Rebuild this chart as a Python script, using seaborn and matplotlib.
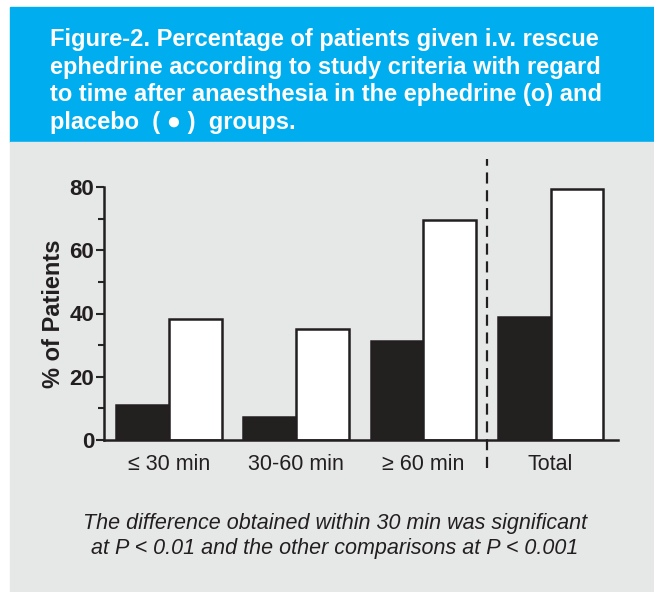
import matplotlib.pyplot as plt
from matplotlib.patches import Rectangle
import seaborn as sns
import pandas as pd

sns.set_style('ticks')
plt.rcParams['font.family'] = ['Liberation Sans', 'DejaVu Sans']

# values (% of patients)
periods = ['≤ 30 min', '30-60 min', '≥ 60 min', 'Total']
placebo = [11, 7.3, 31.3, 39]
ephedrine = [38.3, 35, 69.6, 79.5]

df = pd.DataFrame({
    'period': periods * 2,
    'pct': placebo + ephedrine,
    'group': ['placebo'] * 4 + ['ephedrine'] * 4,
})

fig = plt.figure(figsize=(6.54, 5.92), dpi=100)
fig.patch.set_facecolor('white')
# header and body boxes
fig.patches.append(Rectangle((10 / 654, 1 - 142 / 592), 644 / 654, 135 / 592,
                             transform=fig.transFigure, color='#00aeef', zorder=-2))
fig.patches.append(Rectangle((10 / 654, 0), 644 / 654, 1 - 142 / 592,
                             transform=fig.transFigure, color='#e6e7e7', zorder=-2))

ax = fig.add_axes([104 / 654, 1 - 440 / 592, 514 / 654, 253 / 592])
ax.set_facecolor('none')

sns.barplot(data=df, x='period', y='pct', hue='group', ax=ax,
            palette={'placebo': '#231f20', 'ephedrine': 'white'},
            edgecolor='#231f20', linewidth=1.8, width=0.83, legend=False)

ax.set_xlim(-0.51, 3.53)
ax.set_ylim(0, 80)
ax.set_yticks([0, 20, 40, 60, 80])
ax.set_yticks([10, 30, 50, 70], minor=True)
ax.tick_params(axis='y', which='major', length=6, width=1.5, labelsize=16, pad=1)
ax.tick_params(axis='y', which='minor', length=4, width=1.5)
ax.tick_params(axis='x', length=0, labelsize=15.5, pad=10, colors='#231f20')
for t in ax.get_yticklabels():
    t.set_fontweight('bold')
    t.set_color('#231f20')
ax.set_xlabel('')
ax.set_ylabel('% of Patients', fontsize=17, fontweight='bold', color='#231f20')
ax.yaxis.set_label_coords(-0.075, 0.5)
for s in ['top', 'right']:
    ax.spines[s].set_visible(False)
for s in ['left', 'bottom']:
    ax.spines[s].set_linewidth(1.8)
    ax.spines[s].set_color('#231f20')

# dashed separator before Total
ax.plot([2.5, 2.5], [-9, 89], color='#231f20', lw=1.6, ls=(0, (5, 3)), clip_on=False)

title = ('Figure-2. Percentage of patients given i.v. rescue\n'
         'ephedrine according to study criteria with regard\n'
         'to time after anaesthesia in the ephedrine (o) and\n'
         'placebo  ( \u25cf )  groups.')
fig.text(50 / 654, 1 - 81 / 592, title, color='white', fontsize=17,
         fontweight='bold', va='center', ha='left', linespacing=1.27)

note = ('The difference obtained within 30 min was significant\n'
        'at P < 0.01 and the other comparisons at P < 0.001')
fig.text(335 / 654, 1 - 536 / 592, note, color='#231f20', fontsize=15.5,
         style='italic', ha='center', va='center', linespacing=1.25)

fig.savefig('out.png', dpi=100, facecolor=fig.get_facecolor())
